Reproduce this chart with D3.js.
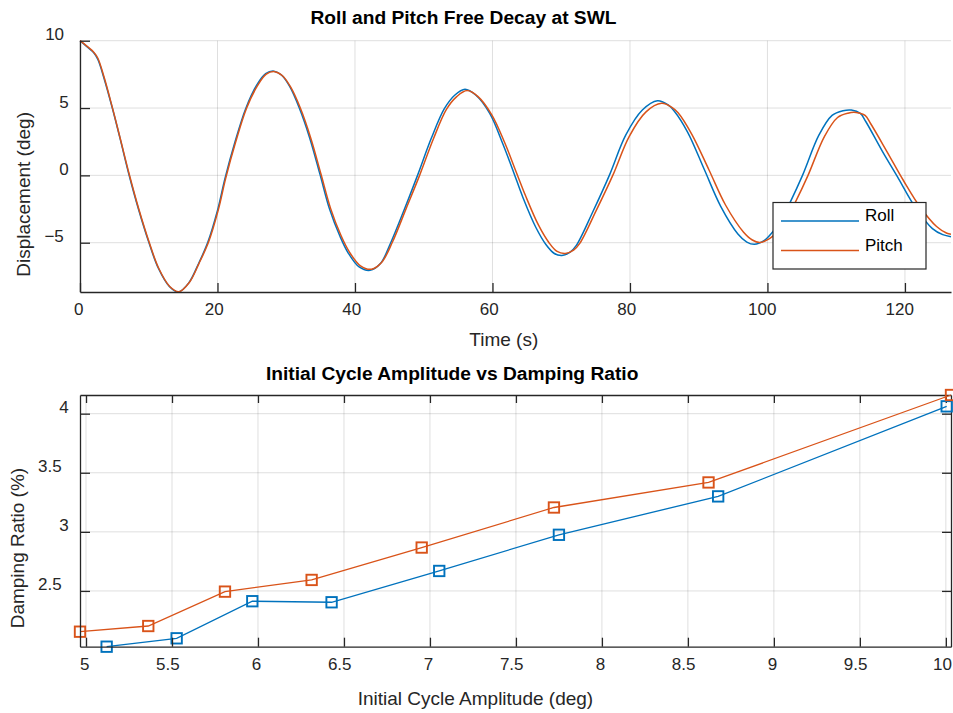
<!DOCTYPE html>
<html>
<head>
<meta charset="utf-8">
<script src="https://cdn.jsdelivr.net/npm/d3@7"></script>
<style>
  body { margin: 0; background: #fff; }
  svg { display: block; }
</style>
</head>
<body>
<div id="chart"></div>
<script>
// free decay time series
const rollTime = [0, 1.0, 2.0, 2.6, 3.5, 4.7, 5.8, 7.1, 8.5, 10.0, 11.4, 13.0, 14.3, 15.8, 17.2, 18.6, 20.0, 21.1,
  22.5, 24.1, 25.7, 27.0, 28.2, 29.3, 30.5, 31.9, 33.4, 34.9, 36.3, 37.8, 39.0, 40.6, 42.2, 43.7, 45.2, 47.2, 49.1,
  51.1, 53.0, 54.5, 56.0, 57.6, 59.6, 61.5, 63.1, 64.4, 66.3, 67.8, 69.0, 70.1, 71.3, 72.2, 74.6, 77.0, 79.4, 81.8,
  84.0, 85.5, 86.4, 88.4, 90.8, 93.2, 95.7, 97.0, 98.1, 99.5, 100.6, 102.0, 103.3, 105.1, 107.5, 109.4, 111.0, 112.2,
  113.5, 114.3, 116.7, 118.9, 121.6, 124.0, 125.5, 126.7];
const roll = [10, 9.55, 9.1, 8.6, 7.2, 5.0, 2.8, 0.1, -2.5, -4.95, -6.9, -8.25, -8.66, -8.0, -6.6, -4.95, -2.6, -0.2,
  2.4, 4.95, 6.7, 7.55, 7.74, 7.45, 6.6, 5.0, 2.8, 0.1, -2.5, -4.5, -5.75, -6.8, -7.05, -6.55, -5.0, -2.5, 0,
  2.75, 4.95, 5.95, 6.4, 5.95, 4.6, 2.35, 0.2, -1.6, -3.85, -5.15, -5.8, -5.95, -5.7, -5.2, -2.7, 0, 3.0, 4.85,
  5.54, 5.25, 4.8, 3.2, 0.45, -2.3, -4.35, -4.95, -5.12, -4.85, -4.3, -3.3, -2.0, 0, 3.0, 4.45, 4.8, 4.85,
  4.6, 4.0, 1.8, -0.1, -2.45, -3.95, -4.4, -4.55];

const pitchTime = [0, 1.0, 2.0, 2.6, 3.5, 4.7, 5.8, 7.15, 8.55, 10.05, 11.45, 13.05, 14.4, 15.9, 17.3, 18.7, 20.1, 21.2,
  22.6, 24.2, 25.8, 27.1, 28.35, 29.45, 30.65, 32.05, 33.55, 35.05, 36.45, 37.95, 39.2, 40.8, 42.4, 43.9, 45.45, 47.45,
  49.4, 51.4, 53.3, 54.8, 56.3, 57.9, 59.9, 61.8, 63.45, 64.8, 66.7, 68.2, 69.4, 70.6, 71.8, 72.7, 75.1, 77.5, 79.9,
  82.3, 84.6, 86.1, 87.0, 89.0, 91.5, 93.9, 96.5, 97.8, 98.9, 100.3, 101.4, 102.8, 104.1, 105.9, 108.3, 110.2, 111.7,
  112.9, 114.2, 115.0, 117.4, 119.8, 122.2, 124.6, 126.1, 126.7];
const pitch = [10, 9.6, 9.15, 8.7, 7.3, 5.05, 2.85, 0.1, -2.5, -4.95, -6.9, -8.25, -8.64, -7.95, -6.55, -4.95, -2.6, -0.2,
  2.4, 4.95, 6.65, 7.52, 7.7, 7.4, 6.55, 5.0, 2.8, 0.1, -2.45, -4.45, -5.7, -6.72, -6.97, -6.45, -4.95, -2.45,
  0, 2.7, 4.9, 5.85, 6.3, 5.85, 4.5, 2.4, 0.25, -1.5, -3.7, -4.98, -5.65, -5.8, -5.55, -5.05, -2.6, 0, 2.9,
  4.7, 5.35, 5.05, 4.65, 3.05, 0.4, -2.2, -4.2, -4.8, -4.98, -4.7, -4.2, -3.2, -1.95, 0, 2.9, 4.3, 4.62,
  4.67, 4.45, 3.85, 1.75, -0.4, -2.35, -3.8, -4.3, -4.37];

// damping ratio vs initial cycle amplitude
const rollAmp = [5.12, 5.527, 5.967, 6.428, 7.054, 7.75, 8.676, 10.005];
const rollDamp = [2.028, 2.099, 2.413, 2.404, 2.669, 2.975, 3.30, 4.062];
const pitchAmp = [4.965, 5.362, 5.808, 6.312, 6.952, 7.721, 8.62, 10.03];
const pitchDamp = [2.155, 2.203, 2.494, 2.593, 2.867, 3.206, 3.418, 4.158];

const timeTicks = [0, 20, 40, 60, 80, 100, 120];
const dispTicks = [-5, 0, 5, 10];
const ampTicks = [5, 5.5, 6, 6.5, 7, 7.5, 8, 8.5, 9, 9.5, 10];
const dampTicks = [2.5, 3, 3.5, 4];
const seriesNames = ["Roll", "Pitch"];
const colors = ["#0072BD", "#D95319"];

const FONT = "'Liberation Sans', Arial, Helvetica, sans-serif";
const AXIS = "#262626";
const W = 953, H = 713;

const svg = d3.select("#chart").append("svg")
  .attr("width", W).attr("height", H)
  .style("font-family", FONT);

// text in the reference sits left of its anchor by a share of its width
function shift(sel, frac) {
  sel.each(function () {
    const w = this.getComputedTextLength();
    d3.select(this).attr("dx", -frac * w);
  });
}

function styleAxis(g) {
  g.select(".domain").attr("stroke", AXIS).attr("stroke-width", 1.3);
  g.selectAll(".tick line").attr("stroke", AXIS).attr("stroke-width", 1.3);
  g.selectAll("text").attr("fill", AXIS).style("font-size", "17px").style("font-family", FONT);
}

function grid(g, x, y, xt, yt) {
  const [x0, x1] = x.range(), [y0, y1] = y.range();
  g.selectAll(".gx").data(xt).join("line")
    .attr("x1", d => x(d)).attr("x2", d => x(d)).attr("y1", y0).attr("y2", y1)
    .attr("stroke", AXIS).attr("stroke-opacity", 0.15);
  g.selectAll(".gy").data(yt).join("line")
    .attr("x1", x0).attr("x2", x1).attr("y1", d => y(d)).attr("y2", d => y(d))
    .attr("stroke", AXIS).attr("stroke-opacity", 0.15);
}

function xAxis(g, x, ticks, yPos) {
  g.attr("transform", `translate(0,${yPos})`)
    .call(d3.axisBottom(x).tickValues(ticks).tickSizeInner(-9).tickSizeOuter(0).tickFormat(d3.format("")));
  styleAxis(g);
  g.selectAll("text").attr("y", 23).attr("dy", 0).call(shift, 0.2);
}

function yAxis(g, y, ticks, xPos) {
  g.attr("transform", `translate(${xPos},0)`)
    .call(d3.axisLeft(y).tickValues(ticks).tickSizeInner(-10).tickSizeOuter(0).tickFormat(d3.format("")));
  styleAxis(g);
  g.selectAll("text").attr("x", -6.5).attr("y", -1).attr("dy", 0).call(shift, 0.5);
}

function title(txt, cx, y) {
  svg.append("text").attr("x", cx).attr("y", y).attr("text-anchor", "middle")
    .style("font-size", "19.2px").style("font-weight", "bold").attr("fill", "#000")
    .text(txt).call(shift, 0.17);
}

function xLabel(txt, cx, y) {
  svg.append("text").attr("x", cx).attr("y", y).attr("text-anchor", "middle")
    .style("font-size", "19px").attr("fill", AXIS).text(txt).call(shift, 0.17);
}

function yLabel(txt, x, cy) {
  svg.append("text").attr("transform", `translate(${x},${cy}) rotate(-90)`)
    .attr("text-anchor", "middle").style("font-size", "19px").attr("fill", AXIS)
    .text(txt).call(shift, 0.17);
}

// ---------- top: free decay ----------
const topBox = { left: 80, right: 951, top: 40.7, bottom: 292 };
const xT = d3.scaleLinear()
  .domain([0, d3.max(rollTime.concat(pitchTime))])
  .range([topBox.left, topBox.right]);
const yT = d3.scaleLinear()
  .domain([d3.min(roll.concat(pitch)), d3.max(roll.concat(pitch))])
  .range([topBox.bottom, topBox.top]);

grid(svg.append("g"), xT, yT, timeTicks, dispTicks);

const line = d3.line().curve(d3.curveCatmullRom.alpha(0.5));
const decay = [
  rollTime.map((t, i) => [xT(t), yT(roll[i])]),
  pitchTime.map((t, i) => [xT(t), yT(pitch[i])])
];
decay.forEach((pts, i) => {
  svg.append("path").attr("d", line(pts)).attr("fill", "none")
    .attr("stroke", colors[i]).attr("stroke-width", 1.5);
});

xAxis(svg.append("g"), xT, timeTicks, topBox.bottom);
yAxis(svg.append("g"), yT, dispTicks, topBox.left);
title("Roll and Pitch Free Decay at SWL", 515.5, 24);
xLabel("Time (s)", 515.5, 346);
yLabel("Displacement (deg)", 30, 166.4);

// legend
const leg = svg.append("g").attr("transform", "translate(773,202.5)");
leg.append("rect").attr("width", 153).attr("height", 66.5)
  .attr("fill", "#fff").attr("stroke", AXIS).attr("stroke-width", 1.2);
seriesNames.forEach((name, i) => {
  const yy = 18.5 + i * 29.5;
  leg.append("line").attr("x1", 8).attr("x2", 86).attr("y1", yy).attr("y2", yy)
    .attr("stroke", colors[i]).attr("stroke-width", 1.5);
  leg.append("text").attr("x", 92).attr("y", yy).style("font-size", "17px")
    .attr("fill", "#000").text(name);
});

// ---------- bottom: damping ratio ----------
const botBox = { left: 80, right: 951, top: 395, bottom: 646.7 };
const xB = d3.scaleLinear()
  .domain(d3.extent(rollAmp.concat(pitchAmp)))
  .range([botBox.left, botBox.right]);
const yB = d3.scaleLinear()
  .domain(d3.extent(rollDamp.concat(pitchDamp)))
  .range([botBox.bottom, botBox.top]);

grid(svg.append("g"), xB, yB, ampTicks, dampTicks);

// box with inward ticks on the top and right
svg.append("g").attr("transform", `translate(0,${botBox.top})`)
  .call(d3.axisTop(xB).tickValues(ampTicks).tickSizeInner(-8).tickSizeOuter(0).tickFormat(""))
  .call(styleAxis);
svg.append("g").attr("transform", `translate(${botBox.right},0)`)
  .call(d3.axisRight(yB).tickValues(dampTicks).tickSizeInner(-9).tickSizeOuter(0).tickFormat(""))
  .call(styleAxis);

const series = [
  rollAmp.map((a, i) => [a, rollDamp[i]]),
  pitchAmp.map((a, i) => [a, pitchDamp[i]])
];
const line2 = d3.line().x(d => xB(d[0])).y(d => yB(d[1]));
series.forEach((pts, i) => {
  svg.append("path").attr("d", line2(pts)).attr("fill", "none")
    .attr("stroke", colors[i]).attr("stroke-width", 1.3);
  svg.append("g").selectAll("rect").data(pts).join("rect")
    .attr("x", d => xB(d[0]) - 5.2).attr("y", d => yB(d[1]) - 5.2)
    .attr("width", 10.4).attr("height", 10.4)
    .attr("fill", "none").attr("stroke", colors[i]).attr("stroke-width", 1.9);
});

xAxis(svg.append("g"), xB, ampTicks, botBox.bottom);
yAxis(svg.append("g"), yB, dampTicks, botBox.left);
title("Initial Cycle Amplitude vs Damping Ratio", 515.5, 379.5);
xLabel("Initial Cycle Amplitude (deg)", 515.5, 705);
yLabel("Damping Ratio (%)", 23.5, 520.8);
</script>
</body>
</html>
